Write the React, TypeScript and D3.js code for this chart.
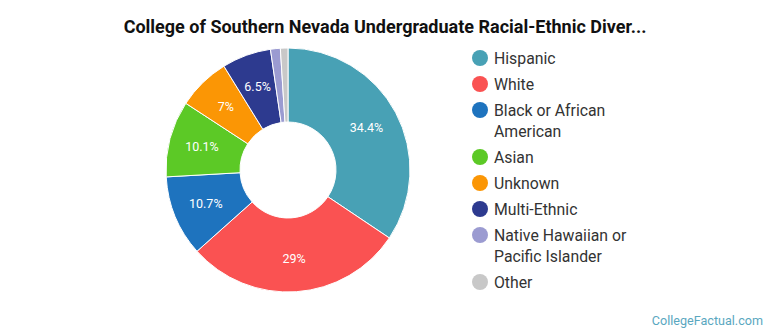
import React from "react";
import * as d3 from "d3";

const categories = ["Hispanic", "White", "Black or African American", "Asian", "Unknown", "Multi-Ethnic", "Native Hawaiian or Pacific Islander", "Other"];
const values = [34.4, 29, 10.7, 10.1, 7, 6.5, 1.3, 1.0];
const valueLabels = ["34.4%", "29%", "10.7%", "10.1%", "7%", "6.5%", "", ""];
const colors = ["#48a1b5", "#fa5252", "#1e73be", "#5cc926", "#fb9605", "#2d3a8f", "#9b9bd1", "#c8c8c8"];
const legendLines = [["Hispanic"], ["White"], ["Black or African", "American"], ["Asian"], ["Unknown"], ["Multi-Ethnic"], ["Native Hawaiian or", "Pacific Islander"], ["Other"]];

export default function App() {
  const W = 770, H = 335;
  const cx = 288, cy = 170, R = 122, r = 48;
  const pie = d3.pie<number>().sort(null).value((d) => d);
  const arcs = pie(values);
  const arc = d3.arc<d3.PieArcDatum<number>>().innerRadius(r).outerRadius(R);
  const labelArc = d3.arc<d3.PieArcDatum<number>>().innerRadius((R + r) / 2 + 4).outerRadius((R + r) / 2 + 4);
  let y = 58;
  const legendItems = legendLines.map((lines, i) => {
    const item = { lines, y, i };
    y += 26 + (lines.length - 1) * 21;
    return item;
  });
  return (
    <svg width={W} height={H} style={{ position: "absolute", left: 0, top: 0, fontFamily: "Roboto, sans-serif" }}>
      <rect width={W} height={H} fill="#fff" />
      <text x={385} y={33} textAnchor="middle" fontSize={18} fontWeight="bold" fill="#111">
        College of Southern Nevada Undergraduate Racial-Ethnic Diver...
      </text>
      <g transform={`translate(${cx},${cy})`}>
        {arcs.map((a, i) => (
          <path key={categories[i]} d={arc(a) || ""} fill={colors[i]} stroke="#fff" strokeWidth={1} />
        ))}
        {arcs.map((a, i) => {
          if (!valueLabels[i]) return null;
          const [lx, ly] = labelArc.centroid(a);
          return (
            <text key={"l" + i} x={lx} y={ly} dy="0.35em" textAnchor="middle" fontSize={12.5} fill="#fff">
              {valueLabels[i]}
            </text>
          );
        })}
      </g>
      {legendItems.map((it) => (
        <g key={"lg" + it.i}>
          <circle cx={480} cy={it.y} r={8} fill={colors[it.i]} />
          {it.lines.map((ln, j) => (
            <text key={j} x={494} y={it.y + j * 21} dy="0.36em" fontSize={15.8} fill="#333">
              {ln}
            </text>
          ))}
        </g>
      ))}
      <text x={763} y={325} textAnchor="end" fontSize={12.6} fill="#5aa7bf">CollegeFactual.com</text>
    </svg>
  );
}
